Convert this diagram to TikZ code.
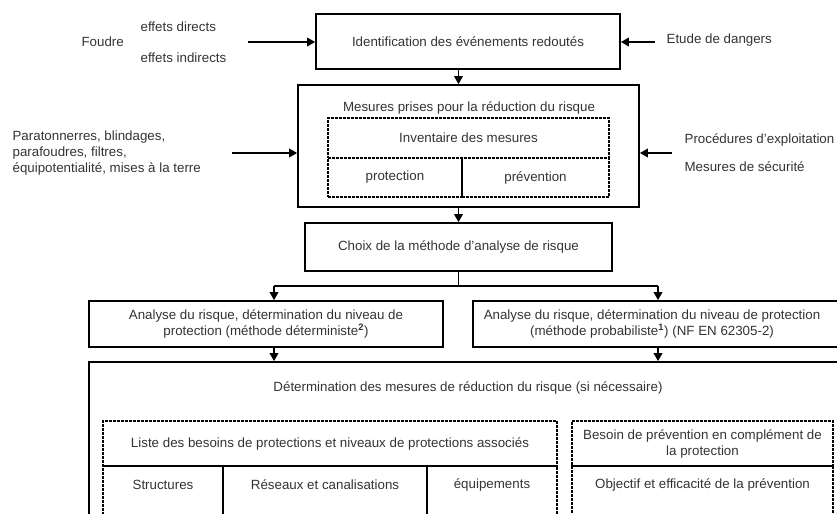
\documentclass[tikz,border=0pt]{standalone}
\usepackage{fontspec}
\setmainfont{Liberation Sans}
\usetikzlibrary{arrows.meta,calc}

\begin{document}
\begin{tikzpicture}[x=0.75pt,y=-0.75pt]
\path [use as bounding box] (0,0) rectangle (837,513);
\clip (0,0) rectangle (837,513);
\tikzstyle{every node} = [text=black!80, font=\fontsize{10}{12}\selectfont, inner sep=1pt]
\tikzstyle{box} = [draw=black, line width=1.3pt, align=center]
\tikzstyle{dbox} = [draw=black, line width=0.8pt, dash pattern=on 2pt off 1pt, align=center]
\tikzstyle{arr} = [line width=1pt, -{Triangle[length=6pt,width=6.5pt]}]
% main boxes
\node[box, minimum width=228pt, minimum height=41.25pt] (ident) at (468,41.5) {Identification des événements redoutés};
\node[box, minimum width=255.75pt, minimum height=91.5pt] (mes) at (468.5,146) {};
\node (mest) at (469,108) {Mesures prises pour la réduction du risque};
\node[dbox, minimum width=210.75pt, minimum height=30pt] (inv) at (468.5,138) {Inventaire des mesures};
\node[dbox, minimum width=100.5pt, minimum height=29.25pt] (prot) at (395,177.5) {protection};
\node[dbox, minimum width=110.25pt, minimum height=29.25pt] (prev) at (535.5,177.5) {prévention};
\node[box, minimum width=230.25pt, minimum height=36pt] (choix) at (458.5,247) {Choix de la méthode d'analyse de risque};
\node[box, minimum width=265.5pt, minimum height=34.5pt] (ana1) at (266,324) {Analyse du risque, détermination du niveau de\\protection (méthode déterministe\textsuperscript{\textbf{2}})};
\node[box, minimum width=279pt, minimum height=34.5pt] (ana2) at (659,324) {};
\node[align=center] (ana2t) at (652,324) {Analyse du risque, détermination du niveau de protection\\(méthode probabiliste\textsuperscript{\textbf{1}}) (NF EN 62305-2)};
\node[box, minimum width=578.25pt, minimum height=133.5pt] (big) at (474.5,451) {};
\node (bigt) at (468,388) {Détermination des mesures de réduction du risque (si nécessaire)};
% lower dashed boxes
\node[dbox, minimum width=340.5pt, minimum height=33.75pt] (liste) at (330,443.5) {Liste des besoins de protections et niveaux de protections associés};
\node[dbox, minimum width=90pt, minimum height=55.5pt] (struct) at (163,503) {};
\node[dbox, minimum width=153pt, minimum height=55.5pt] (res) at (325,503) {};
\node[dbox, minimum width=97.5pt, minimum height=55.5pt] (equip) at (492,503) {};
\node (structt) at (163,485) {Structures};
\node (rest) at (325,485) {Réseaux et canalisations};
\node (equipt) at (492,485) {équipements};
\node[dbox, minimum width=195.75pt, minimum height=33.75pt] (besoin) at (702.5,443.5) {Besoin de prévention en complément de\\la protection};
\node[dbox, minimum width=195.75pt, minimum height=55.5pt] (obj) at (702.5,503) {};
\node (objt) at (702.5,485) {Objectif et efficacité de la prévention};
% side texts
\node[anchor=west] (foudre) at (80,42) {Foudre};
\node[anchor=west] (dir) at (139,27) {effets directs};
\node[anchor=west] (ind) at (139,58) {effets indirects};
\node[anchor=west] (etude) at (665,40) {Etude de dangers};
\node[anchor=west, align=left] (para) at (11,153) {Paratonnerres, blindages,\\parafoudres, filtres,\\équipotentialité, mises à la terre};
\node[anchor=west] (proc) at (683,140) {Procédures d’exploitation};
\node[anchor=west] (secu) at (683,167) {Mesures de sécurité};
% arrows
\coordinate (fo) at (248,42);
\coordinate (ed) at (655,42);
\coordinate (pa) at (232,153);
\coordinate (pr) at (672,153);
\coordinate (sp) at (458.5,286);
\coordinate (l) at (274,286);
\coordinate (r) at (658,286);
\draw[arr] (fo) -- (fo -| ident.west);
\draw[arr] (ed) -- (ed -| ident.east);
\draw[arr] (pa) -- (pa -| mes.west);
\draw[arr] (pr) -- (pr -| mes.east);
\draw[arr] (ident.south -| choix.north) -- (mes.north -| choix.north);
\draw[arr] (mes.south -| choix.north) -- (choix.north);
\draw[line width=1pt] (choix.south) -- (sp);
\draw[line width=1pt] (l) -- (r);
\draw[arr] (l) -- (l |- ana1.north);
\draw[arr] (r) -- (r |- ana2.north);
\draw[arr] (l |- ana1.south) -- (l |- big.north);
\draw[arr] (r |- ana2.south) -- (r |- big.north);
\end{tikzpicture}
\end{document}
